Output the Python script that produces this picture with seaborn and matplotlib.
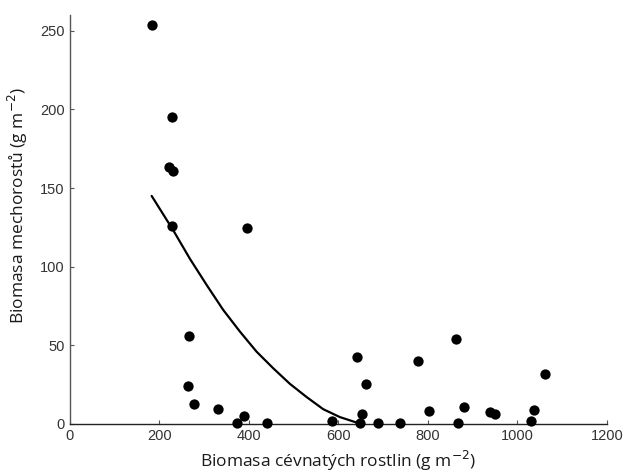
import numpy as np
import pandas as pd
import seaborn as sns
import matplotlib
matplotlib.use("Agg")
import matplotlib.pyplot as plt

# cevnate rostliny (x) vs mechorosty (y), g m-2
cevnate = [183, 227, 222, 229.5, 228.6, 396, 265, 263, 277, 330,
           389.5, 372.5, 439.5, 586, 642, 661, 653, 648, 688, 737,
           778, 803, 862.5, 867, 880.5, 938, 949, 1038, 1031, 1062]
mechy = [254, 195, 163.5, 161, 126, 124.5, 56, 24, 12.7, 9.7,
         5.1, 0.8, 0.8, 2.1, 42.8, 25.6, 6.4, 0.4, 0.8, 0.4,
         40.2, 8.3, 53.8, 0.4, 11, 7.4, 6.4, 8.7, 1.9, 31.8]

# fitted curve
fit_x = [182.5, 231, 268, 305.5, 342.6, 380, 417, 454, 491.6, 529, 566, 603, 640.6]
fit_y = [145, 123, 105, 88.3, 72.4, 58.6, 45.9, 35.4, 25.4, 17, 9.3, 4.3, 0.8]

df = pd.DataFrame({"cevnate": cevnate, "mechy": mechy})
df_fit = pd.DataFrame({"x": fit_x, "y": fit_y})

sns.set_style("ticks")
plt.rcParams['font.family'] = ['Liberation Sans', 'DejaVu Sans']

fig = plt.figure(figsize=(6.25, 4.73), dpi=100)
ax = fig.add_axes([0.112, 0.104, 0.859, 0.864])

sns.lineplot(data=df_fit, x="x", y="y", color="black", linewidth=1.6, ax=ax, sort=False)
sns.scatterplot(data=df, x="cevnate", y="mechy", color="black", s=55,
                edgecolor="black", linewidth=0, ax=ax, clip_on=False, zorder=3)

ax.set_xlim(0, 1200)
ax.set_ylim(0, 260)
ax.set_xticks([0, 200, 400, 600, 800, 1000, 1200])
ax.set_yticks([0, 50, 100, 150, 200, 250])
ax.tick_params(direction="in", length=3, width=0.8, labelsize=10.5,
               colors="#555555", labelcolor="#333333", pad=4)

sns.despine(ax=ax)
ax.spines["left"].set_color("#555555")
ax.spines["bottom"].set_color("#222222")
for s in ["left", "bottom"]:
    ax.spines[s].set_linewidth(1.0)

lab_font = dict(family=["Open Sans", "DejaVu Sans"], fontsize=12.5, color="#1a1a1a")
ax.set_xlabel("Biomasa cévnatých rostlin (g m$^{-2}$)", labelpad=4, **lab_font)
ax.set_ylabel("Biomasa mechorostů (g m$^{-2}$)", labelpad=6, **lab_font)
ax.yaxis.set_label_coords(-0.074, 0.535)

plt.savefig("out.png", dpi=100)
